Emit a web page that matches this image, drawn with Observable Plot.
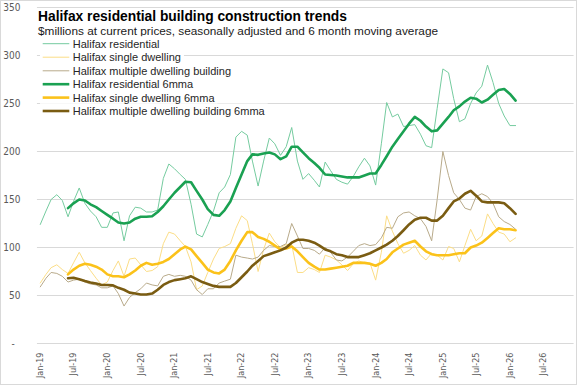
<!DOCTYPE html>
<html><head><meta charset="utf-8">
<script src="https://cdn.jsdelivr.net/npm/d3@7"></script>
<script src="https://cdn.jsdelivr.net/npm/@observablehq/plot@0.6"></script>
<style>
html,body{margin:0;padding:0;background:#fff;}
#chart{position:relative;width:577px;height:385px;box-sizing:border-box;border:1px solid #d9d9d9;overflow:hidden;}
#chart svg{display:block;}
#plot{position:absolute;left:-1px;top:-1px;}
#overlay{position:absolute;left:-1px;top:-1px;}
</style></head><body>
<div id="chart"><div id="plot"></div><svg id="overlay" width="577" height="130"></svg></div>
<script>
// Monthly data, Jan-19 .. Feb-26 ($ millions)
const residential = [124,138,150,155,149,132,148,162,146,138,132,121,121,136,137,107,133,142,141,137,137,139,172,187,182,176,171,145,114,111,124,138,157,163,176,215,221,217,190,164,190,214,208,196,205,225,190,171,177,170,163,189,180,171,168,166,174,184,193,185,165,208,251,236,239,226,227,228,218,206,204,245,286,282,255,231,234,250,261,268,290,272,250,237,227,227];
const singleDwelling = [63,72,79,82,77,73,84,95,84,76,68,61,64,76,86,70,88,89,82,75,76,80,104,116,114,107,101,85,56,60,74,88,99,101,104,120,133,128,104,75,98,115,106,100,103,103,74,74,79,77,74,92,90,87,82,76,83,86,84,84,66,95,133,117,104,94,97,102,92,87,94,92,87,101,99,85,102,119,107,112,135,125,116,114,106,110];
const multipleDwelling = [59,68,74,73,70,64,66,67,64,62,61,58,58,60,52,39,48,53,57,63,61,60,70,72,70,71,70,66,56,51,57,57,63,65,67,92,90,89,88,90,97,102,101,101,104,125,112,99,99,97,93,100,95,87,86,90,96,102,104,102,103,110,121,120,132,136,137,133,130,122,107,150,200,175,157,150,141,139,153,156,153,146,132,127,124,119];
// 6-month moving averages, Jun-19 .. Feb-26
const residential6mma = [141,146,150,149,145,142,138,134,130,126,125,126,130,132,132,132.5,137,143,150,157,163,168.5,168,159,150,140,134,133,139,148,162,176,190,197,196.5,198,199,197,192,195,205,205,199,193,188,183,176,175.5,175,174,173,173,173,175,177,177,186,195,205,213,221,229,236,232,226,221,222,229,236,243,247,252,256,255,251,254,259,264,265,260,253];
const single6mma = [72,77,81,83,82,80,77,72,70,70,69,72,76,81,84,82,83,85,88,93,98,101,98,91,84,77,74,73,77,86,97,107,116,116,111,109,106,102,98,99,101,96,90,84,80,77,77,78,79,80,81,84,84,84,83,81,84,88,95,99,103,105,107,101,96,93,92,92,92,93,94,94,100,102,105,110,115,120,119,119,118];
const multiple6mma = [68,68.5,67,65,63.5,62.5,61,61,60.5,58,56,53,52,51,51,52,56,61,64,66,67,68,70,67,64,62,60,59,59,59,63,69,75,81,86,91,93,95,97,100,105,108,108,107,105,102,98,96,93,92,90,90,90,92,94,97,100,103,107,112,118,124,129,131,131,128,128,133,141,148,151,156,159,154,148,147,147,147,146,141,135];

const seriesNames = ["Halifax residential","Halifax single dwelling","Halifax multiple dwelling building","Halifax residential 6mma","Halifax single dwelling 6mma","Halifax multiple dwelling building 6mma"];
const seriesColors = ["#74cb9f","#fbdd86","#b8aa8a","#1aa152","#fbc21a","#7a5c12"];
const seriesWidths = [1,1,1,2.6,2.6,2.6];
const seriesValues = [residential, singleDwelling, multipleDwelling, residential6mma, single6mma, multiple6mma];
const seriesOffset = [0,0,0,5,5,5];

const yTicks = [0,50,100,150,200,250,300,350];
const xTickLabels = ["Jan-19","Jul-19","Jan-20","Jul-20","Jan-21","Jul-21","Jan-22","Jul-22","Jan-23","Jul-23","Jan-24","Jul-24","Jan-25","Jul-25","Jan-26","Jul-26"];
const xTickDates = xTickLabels.map((_, i) => new Date(Date.UTC(2019, i * 6, 1)));
const monthDate = i => new Date(Date.UTC(2019, i, 1));

const axisFont = "'Liberation Sans Narrow','Arial Narrow','DejaVu Sans Condensed',sans-serif";
const textFont = "'Liberation Sans',Arial,sans-serif";

const lineMarks = seriesValues.map((vals, s) =>
  Plot.line(vals, {
    x: (d, i) => monthDate(i + seriesOffset[s]),
    y: d => d,
    stroke: seriesColors[s],
    strokeWidth: seriesWidths[s],
    strokeLinejoin: "round",
    strokeLinecap: "round"
  })
);

const chart = Plot.plot({
  width: 577,
  height: 385,
  marginLeft: 37,
  marginRight: 2.4,
  marginTop: 7,
  marginBottom: 41.4,
  style: {fontFamily: axisFont, color: "#595959", background: "transparent", overflow: "visible"},
  x: {type: "utc", domain: [new Date(Date.UTC(2018, 11, 16, 12)), new Date(Date.UTC(2026, 11, 16, 12))], label: null},
  y: {domain: [0, 350], label: null},
  marks: [
    Plot.gridY(yTicks, {stroke: "#d9d9d9", strokeOpacity: 1, strokeWidth: 1}),
    Plot.axisY(yTicks, {tickSize: 0, tickPadding: 17, fontSize: 10, tickFormat: d => d === 0 ? "-\u00a0\u00a0" : String(d), label: null}),
    Plot.axisX(xTickDates, {tickSize: 0, tickPadding: 9, tickRotate: -90, textAnchor: "end", lineAnchor: "middle", fontSize: 9, tickFormat: (d, i) => xTickLabels[i], label: null}),
    ...lineMarks
  ]
});
document.getElementById("plot").appendChild(chart);

// Title, subtitle and legend overlaid on the plot area (as in the original)
const ov = d3.select("#overlay");
ov.append("text").attr("x", 38).attr("y", 20.7)
  .attr("font-family", textFont).attr("font-weight", "bold").attr("font-size", 13.8).attr("fill", "#000")
  .text("Halifax residential building construction trends");
ov.append("text").attr("x", 38).attr("y", 35.2)
  .attr("font-family", textFont).attr("font-size", 11.8).attr("fill", "#1a1a1a")
  .text("$millions at current prices, seasonally adjusted and 6 month moving average");

const rowY = [43.7, 57.2, 70.8, 84.2, 97.6, 111];
const bg = ov.append("g");
const fg = ov.append("g");
seriesNames.forEach((name, i) => {
  const t = fg.append("text").attr("x", 72.7).attr("y", rowY[i]).attr("dy", "0.36em")
    .attr("font-family", textFont).attr("font-size", 11).attr("fill", "#262626").text(name);
  const w = t.node().getComputedTextLength();
  bg.append("rect").attr("x", 40).attr("y", rowY[i] - 7.5).attr("width", 72.7 + w + 3 - 40).attr("height", 13.5).attr("fill", "#fff");
  fg.append("line").attr("x1", 42.7).attr("x2", 69.3).attr("y1", rowY[i]).attr("y2", rowY[i])
    .attr("stroke", seriesColors[i]).attr("stroke-width", seriesWidths[i] === 1 ? 1 : 2.6);
});
</script>
</body></html>
